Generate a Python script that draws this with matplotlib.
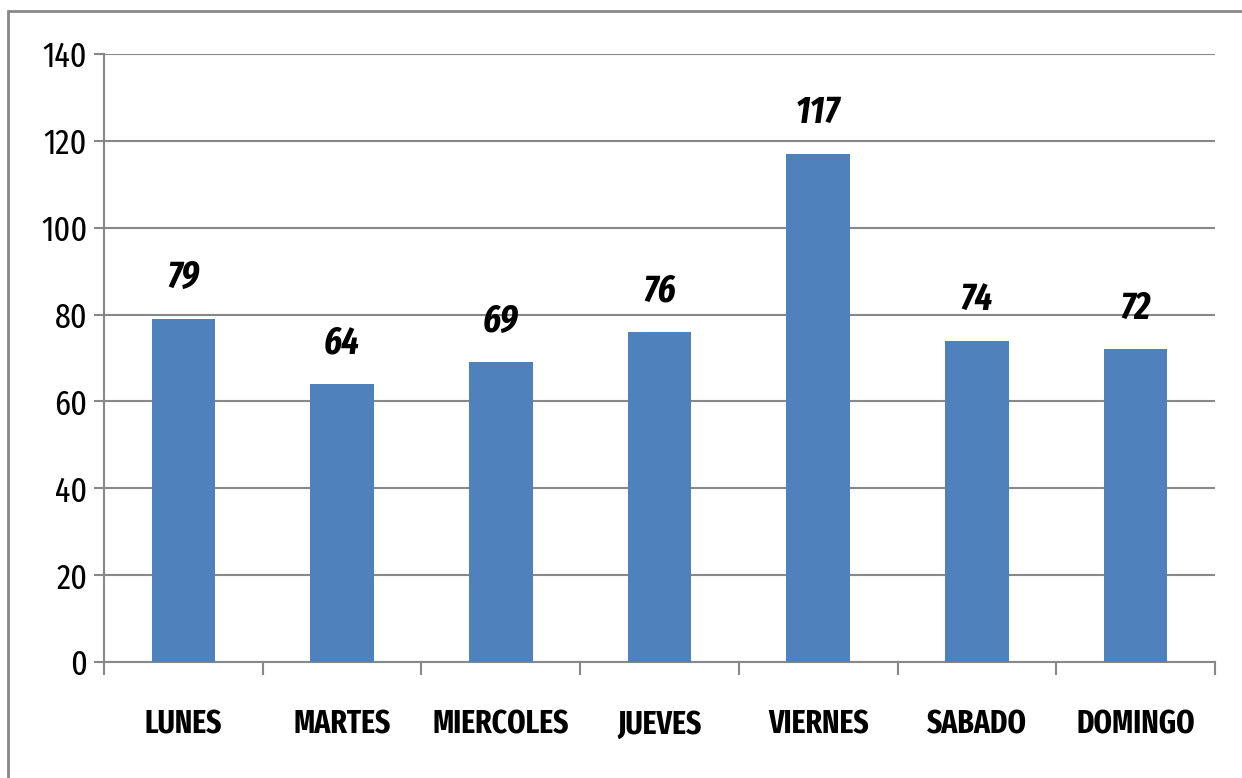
import matplotlib
matplotlib.use("Agg")
import matplotlib.pyplot as plt
from matplotlib.patches import Rectangle

categories = ["LUNES", "MARTES", "MIERCOLES", "JUEVES", "VIERNES", "SABADO", "DOMINGO"]
values = [79, 64, 69, 76, 117, 74, 72]
yticks = [0, 20, 40, 60, 80, 100, 120, 140]

plt.rcParams['font.family'] = ["Fira Sans Extra Condensed", "DejaVu Sans"]

fig = plt.figure(figsize=(12.42, 7.78), dpi=100)
ax = fig.add_axes([104/1242, 1-662/778, (1215-104)/1242, (662-54)/778])

gray = "#888888"
x = list(range(len(categories)))
ax.bar(x, values, width=0.4, color="#4F81BD", zorder=3)
for xi, v in zip(x, values):
    ax.annotate(str(v), (xi, v), xytext=(0, 29.5), textcoords="offset points",
                ha="center", va="center", fontsize=27, fontweight="bold", fontstyle="italic")

ax.set_xlim(-0.5, len(categories) - 0.5)
ax.set_ylim(0, 140)
ax.set_yticks(yticks)
ax.set_yticklabels([str(t) for t in yticks], fontsize=25)
ax.yaxis.grid(True, color=gray, linewidth=1.5, zorder=0)
ax.set_axisbelow(True)

ax.set_xticks([i - 0.5 for i in range(len(categories) + 1)])
ax.set_xticklabels([])
ax.set_xticks(x, minor=True)
ax.set_xticklabels(categories, minor=True, fontsize=23, fontweight="bold")
ax.tick_params(axis="x", which="minor", length=0, pad=34)
ax.tick_params(axis="x", which="major", length=9, width=1.5, color=gray, direction="out")
ax.tick_params(axis="y", length=7, width=1.5, color=gray, pad=5)

for s in ["top", "right"]:
    ax.spines[s].set_visible(False)
for s in ["left", "bottom"]:
    ax.spines[s].set_color(gray)
    ax.spines[s].set_linewidth(1.5)

fig.patches.append(Rectangle((8/1242, -0.1), 1.2, 1.1 - 11/778, transform=fig.transFigure,
                             fill=False, edgecolor=gray, linewidth=2, zorder=0))

fig.savefig("out.png", dpi=100)
